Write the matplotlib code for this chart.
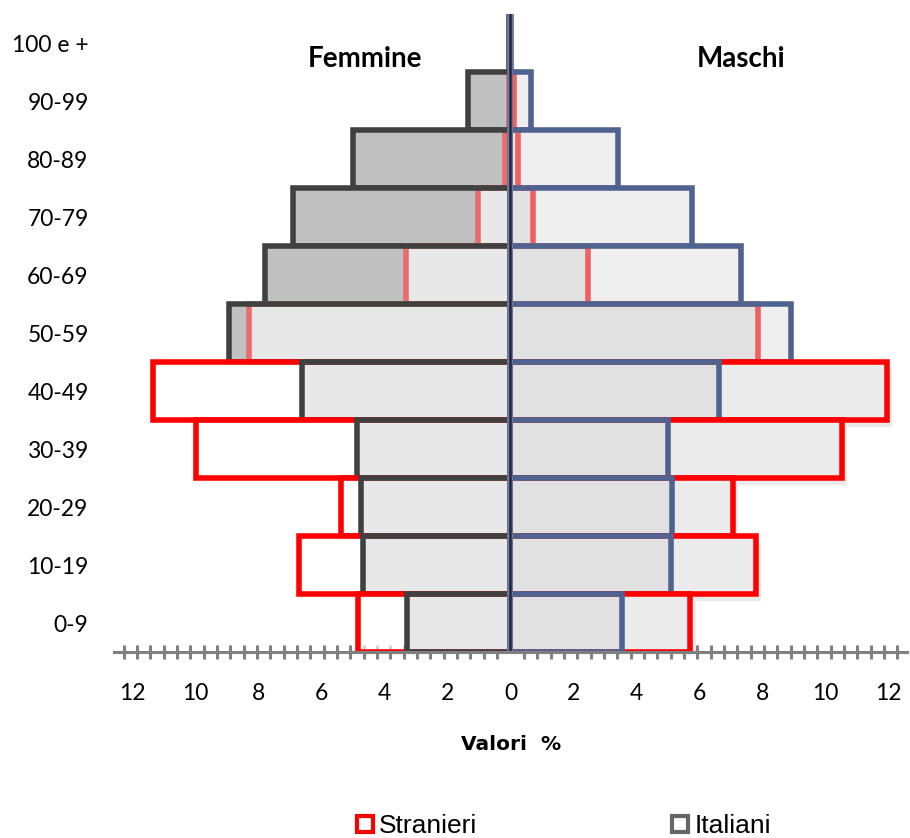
import matplotlib
matplotlib.use("Agg")
import matplotlib.pyplot as plt
from matplotlib.lines import Line2D
from matplotlib.ticker import MultipleLocator, FixedLocator, FuncFormatter
import matplotlib.patheffects as pe

# Age classes, bottom to top
age_classes = ["0-9", "10-19", "20-29", "30-39", "40-49", "50-59",
               "60-69", "70-79", "80-89", "90-99", "100 e +"]

# Percent shares by sex
italiani_femmine = [3.29, 4.68, 4.75, 4.88, 6.63, 8.95, 7.80, 6.90, 5.00, 1.35, 0.05]
stranieri_femmine = [4.85, 6.71, 5.39, 9.99, 11.36, 8.30, 3.32, 1.03, 0.17, 0.05, 0.0]
italiani_maschi = [3.53, 5.10, 5.13, 5.00, 6.62, 8.90, 7.32, 5.76, 3.41, 0.64, 0.02]
stranieri_maschi = [5.70, 7.78, 7.06, 10.51, 11.94, 7.86, 2.46, 0.71, 0.24, 0.10, 0.0]

tick_values = [-12, -10, -8, -6, -4, -2, 0, 2, 4, 6, 8, 10, 12]

W, H = 910, 838
fig = plt.figure(figsize=(W / 100, H / 100), dpi=100)
ax = fig.add_axes([113.6 / W, (H - 652) / H, 793.8 / W, 638 / H])
ax.set_xlim(-12.6, 12.6)
ax.set_ylim(-0.5, 10.5)

ypos = list(range(len(age_classes)))
LW = 4.0
RED = "#ff0000"
RED_SOFT = "#ea6b6b"
DARK = "#404040"
BLUE = "#4f6290"

# Soft drop shadows under the foreign-male bars that stick out
for i in ypos:
    if stranieri_maschi[i] > italiani_maschi[i]:
        sh = ax.barh(i, stranieri_maschi[i], height=1.0, color="white",
                     linewidth=0, zorder=2)
        for p in sh:
            p.set_path_effects([pe.SimplePatchShadow(offset=(4, -5),
                                                     shadow_rgbFace="#a0a0a0",
                                                     alpha=0.22)])

# Rows are layered from the top class down, so lower rows sit above
for i in reversed(ypos):
    z = 10 + (len(ypos) - i) * 6
    fi, fs = italiani_femmine[i], stranieri_femmine[i]
    mi, ms = italiani_maschi[i], stranieri_maschi[i]

    # --- Femmine (left side) ---
    ax.barh(i, -fi, height=1.0, color="#c0c0c0", linewidth=0, zorder=z)
    ax.barh(i, -fs, height=1.0, color="white", alpha=0.65, linewidth=0, zorder=z + 1)
    ax.barh(i, -fs, height=1.0, fill=False,
            edgecolor=RED if fs > fi else RED_SOFT, linewidth=LW, zorder=z + 2)
    ax.barh(i, -fi, height=1.0, fill=False, edgecolor=DARK, linewidth=LW, zorder=z + 3)

    # --- Maschi (right side) ---
    ax.barh(i, ms, height=1.0, color="white", linewidth=0, zorder=z - 1)
    ax.barh(i, mi, height=1.0, color="#efefef", linewidth=0, zorder=z)
    ax.barh(i, ms, height=1.0, color="#cccccc", alpha=0.375, linewidth=0, zorder=z + 1)
    ax.barh(i, ms, height=1.0, fill=False,
            edgecolor=RED if ms > mi else "#f06060", linewidth=LW, zorder=z + 2)
    ax.barh(i, mi, height=1.0, fill=False, edgecolor=BLUE, linewidth=LW, zorder=z + 3)

# Central axis line
ax.axvline(0, color="#9a9a9a", linewidth=4.0, zorder=200, alpha=0.5)
ax.axvline(0, color="#1c2452", linewidth=1.8, zorder=201)

# Axes styling
for s in ("left", "right", "top"):
    ax.spines[s].set_visible(False)
ax.spines["bottom"].set_color("#808080")
ax.spines["bottom"].set_linewidth(2.2)
ax.spines["bottom"].set_zorder(300)

ax.set_yticks(ypos)
ax.set_yticklabels(age_classes, fontfamily="Lato", fontsize=16.5)
ax.tick_params(axis="y", length=0, pad=18)

ax.xaxis.set_major_locator(FixedLocator(tick_values))
ax.xaxis.set_major_formatter(FuncFormatter(lambda v, p: f"{abs(v):g}"))
ax.xaxis.set_minor_locator(MultipleLocator(0.4233))
ax.tick_params(axis="x", which="major", length=0, pad=22, labelsize=16.5)
ax.tick_params(axis="x", which="minor", direction="inout", length=10,
               width=2.2, color="#808080")
for lab in ax.get_xticklabels():
    lab.set_fontfamily("Lato")

ax.text(-4.62, 9.72, "Femmine", ha="center", va="center",
        fontfamily="Lato", fontweight="bold", fontsize=20, zorder=400)
ax.text(7.32, 9.72, "Maschi", ha="center", va="center",
        fontfamily="Lato", fontweight="bold", fontsize=20, zorder=400)

fig.text(511 / W, 1 - 744 / H, "Valori  %", ha="center", va="center",
         fontfamily="DejaVu Sans", fontweight="bold", fontsize=14.5)

handles = [
    Line2D([], [], linestyle="none", marker="s", markersize=11,
           markerfacecolor="white", markeredgecolor=RED, markeredgewidth=3),
    Line2D([], [], linestyle="none", marker="s", markersize=11,
           markerfacecolor="white", markeredgecolor="#666666", markeredgewidth=3),
]
fig.legend(handles, ["Stranieri", "Italiani"], loc="center",
           bbox_to_anchor=(564 / W, 1 - 826 / H), ncol=2, frameon=False,
           prop={"family": "Liberation Sans", "size": 19},
           handlelength=0.6, handletextpad=0.22, columnspacing=7.4,
           borderpad=0, borderaxespad=0)

fig.savefig("out.png", dpi=100, facecolor="white")
